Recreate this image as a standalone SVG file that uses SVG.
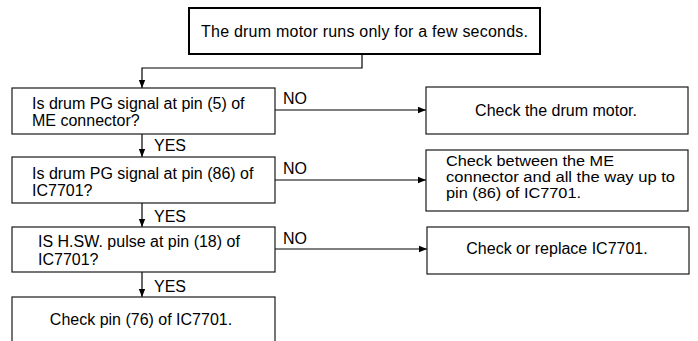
<svg xmlns="http://www.w3.org/2000/svg" width="698" height="341" viewBox="0 0 698 341">
<style>
.box{fill:#fff;stroke:#1a1a1a;stroke-width:1.2}
.top{fill:#fff;stroke:#000;stroke-width:2}
text{font-family:"Liberation Sans",Arial,sans-serif;font-size:16px;fill:#000}
.c{text-anchor:middle}
.sm{font-size:14px}
.ln{fill:none;stroke:#000;stroke-width:1.2}
</style>
<defs>
<marker id="ah" viewBox="0 0 10 10" refX="10" refY="5" markerWidth="8" markerHeight="8" markerUnits="userSpaceOnUse" orient="auto">
<path d="M0,1 L10,5 L0,9 z" fill="#000"/>
</marker>
</defs>
<rect width="698" height="341" fill="#fff"/>
<g id="connectors">
<path class="ln" d="M362,54 V68 H142 V88" marker-end="url(#ah)"/>
<path class="ln" d="M142,134 V157" marker-end="url(#ah)"/>
<path class="ln" d="M142,203 V227" marker-end="url(#ah)"/>
<path class="ln" d="M142,272 V297" marker-end="url(#ah)"/>
<path class="ln" d="M275,110 H426" marker-end="url(#ah)"/>
<path class="ln" d="M275,180 H426" marker-end="url(#ah)"/>
<path class="ln" d="M275,249 H427" marker-end="url(#ah)"/>
<text x="283" y="104">NO</text>
<text x="283" y="174">NO</text>
<text x="283" y="244">NO</text>
<text x="154" y="151">YES</text>
<text x="154" y="222">YES</text>
<text x="154" y="291.5">YES</text>
</g>
<g id="start">
<rect class="top" x="189" y="8" width="351" height="46"/>
<text class="c" x="364.5" y="37" textLength="327">The drum motor runs only for a few seconds.</text>
</g>
<g id="q1">
<rect class="box" x="12" y="88" width="263" height="46"/>
<text x="32" y="108.5">Is drum PG signal at pin (5) of</text>
<text x="32" y="125.5">ME connector?</text>
</g>
<g id="q2">
<rect class="box" x="12" y="157" width="263" height="46"/>
<text x="32" y="178.5">Is drum PG signal at pin (86) of</text>
<text x="32" y="196">IC7701?</text>
</g>
<g id="q3">
<rect class="box" x="12" y="227" width="263" height="45"/>
<text x="38" y="247">IS H.SW. pulse at pin (18) of</text>
<text x="38" y="265">IC7701?</text>
</g>
<g id="end">
<rect class="box" x="12" y="297" width="263" height="60"/>
<text class="c" x="141" y="325">Check pin (76) of IC7701.</text>
</g>
<g id="a1">
<rect class="box" x="426" y="87" width="262" height="47"/>
<text class="c" x="556" y="116">Check the drum motor.</text>
</g>
<g id="a2">
<rect class="box" x="426" y="150" width="262" height="61"/>
<text class="sm" x="446" y="166" textLength="168" lengthAdjust="spacingAndGlyphs">Check between the ME</text>
<text class="sm" x="446" y="182" textLength="229" lengthAdjust="spacingAndGlyphs">connector and all the way up to</text>
<text class="sm" x="446" y="198" textLength="135" lengthAdjust="spacingAndGlyphs">pin (86) of IC7701.</text>
</g>
<g id="a3">
<rect class="box" x="427" y="227" width="262" height="47"/>
<text class="c" x="557" y="254">Check or replace IC7701.</text>
</g>
</svg>
